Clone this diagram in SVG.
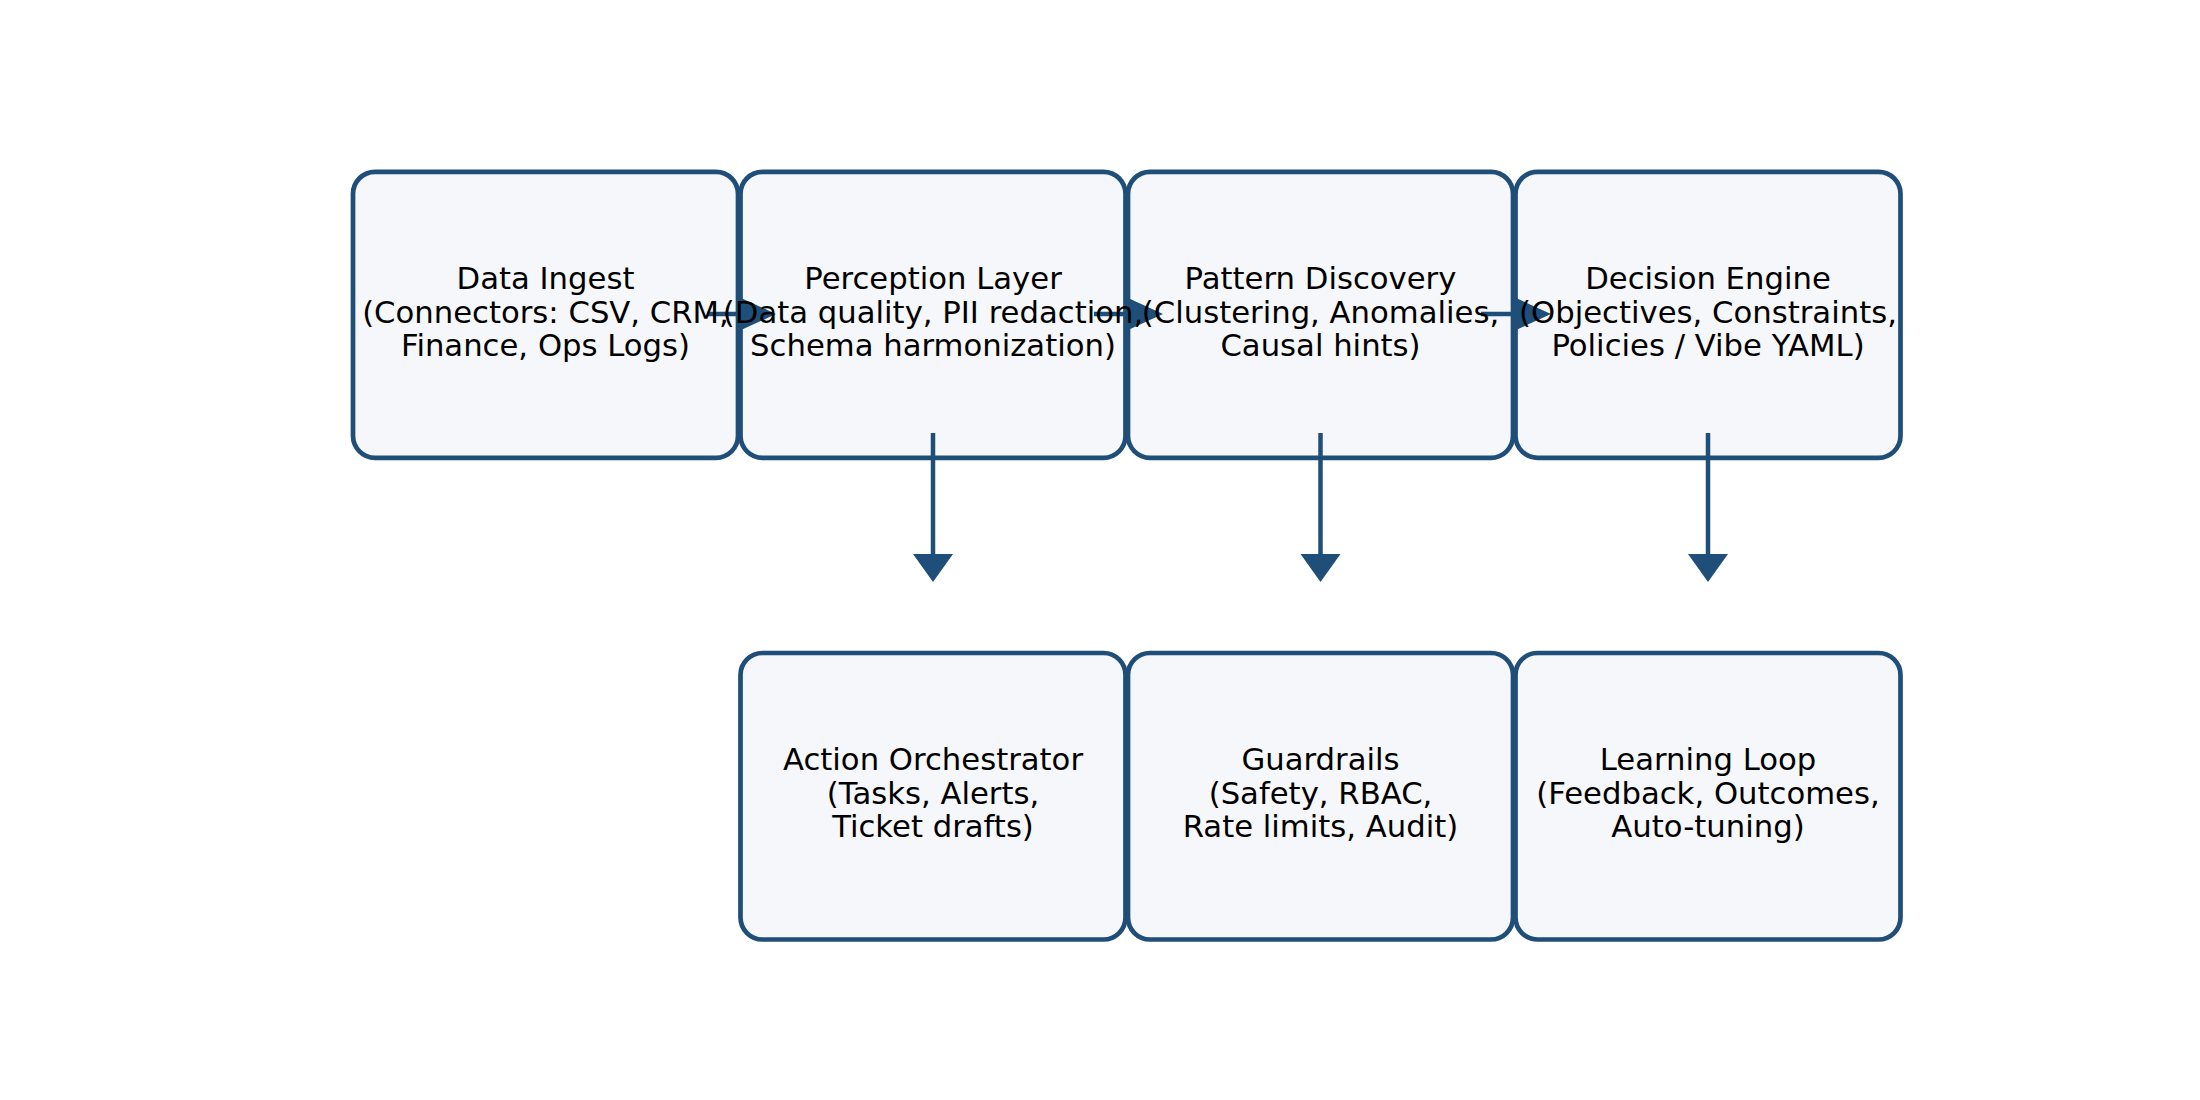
<svg xmlns="http://www.w3.org/2000/svg" width="2200" height="1100" viewBox="0 0 2200 1100">
<style>
.box{fill:#f5f7fa;stroke:#1f4e79;stroke-width:4.7}
.lbl{font-family:"DejaVu Sans",sans-serif;font-size:30.7px;fill:#000;text-anchor:middle}
.ln{stroke:#1f4e79;stroke-width:4.5;fill:none}
.hd{fill:#1f4e79}
</style>
<rect width="2200" height="1100" fill="#ffffff"/>
<g id="boxes">
<rect id="r-ingest" class="box" x="353" y="171.8" width="385" height="286" rx="22"/>
<rect id="r-perception" class="box" x="740.5" y="171.8" width="385" height="286" rx="22"/>
<rect id="r-pattern" class="box" x="1128" y="171.8" width="385" height="286" rx="22"/>
<rect id="r-decision" class="box" x="1515.5" y="171.8" width="385" height="286" rx="22"/>
<rect id="r-action" class="box" x="740.5" y="653" width="385" height="286.5" rx="22"/>
<rect id="r-guard" class="box" x="1128" y="653" width="385" height="286.5" rx="22"/>
<rect id="r-learn" class="box" x="1515.5" y="653" width="385" height="286.5" rx="22"/>
</g>
<g id="connectors">
<line class="ln" x1="707" y1="314" x2="745" y2="314"/>
<polygon class="hd" points="776,314 741,298 741,330"/>
<line class="ln" x1="1094" y1="314" x2="1132" y2="314"/>
<polygon class="hd" points="1163,314 1128,298 1128,330"/>
<line class="ln" x1="1481" y1="314" x2="1519" y2="314"/>
<polygon class="hd" points="1551,314 1516,298 1516,330"/>
<line class="ln" x1="933" y1="433" x2="933" y2="557"/>
<polygon class="hd" points="933,582 913,554 953,554"/>
<line class="ln" x1="1320.5" y1="433" x2="1320.5" y2="557"/>
<polygon class="hd" points="1320.5,582 1300.5,554 1340.5,554"/>
<line class="ln" x1="1708" y1="433" x2="1708" y2="557"/>
<polygon class="hd" points="1708,582 1688,554 1728,554"/>
</g>
<g id="n-ingest"><text class="lbl" x="545.5" y="289">Data Ingest</text><text class="lbl" x="545.5" y="322.5">(Connectors: CSV, CRM,</text><text class="lbl" x="545.5" y="356">Finance, Ops Logs)</text></g>
<g id="n-perception"><text class="lbl" x="933" y="289">Perception Layer</text><text class="lbl" x="933" y="322.5">(Data quality, PII redaction,</text><text class="lbl" x="933" y="356">Schema harmonization)</text></g>
<g id="n-pattern"><text class="lbl" x="1320.5" y="289">Pattern Discovery</text><text class="lbl" x="1320.5" y="322.5">(Clustering, Anomalies,</text><text class="lbl" x="1320.5" y="356">Causal hints)</text></g>
<g id="n-decision"><text class="lbl" x="1708" y="289">Decision Engine</text><text class="lbl" x="1708" y="322.5">(Objectives, Constraints,</text><text class="lbl" x="1708" y="356">Policies / Vibe YAML)</text></g>
<g id="n-action"><text class="lbl" x="933" y="770">Action Orchestrator</text><text class="lbl" x="933" y="803.5">(Tasks, Alerts,</text><text class="lbl" x="933" y="837">Ticket drafts)</text></g>
<g id="n-guard"><text class="lbl" x="1320.5" y="770">Guardrails</text><text class="lbl" x="1320.5" y="803.5">(Safety, RBAC,</text><text class="lbl" x="1320.5" y="837">Rate limits, Audit)</text></g>
<g id="n-learn"><text class="lbl" x="1708" y="770">Learning Loop</text><text class="lbl" x="1708" y="803.5">(Feedback, Outcomes,</text><text class="lbl" x="1708" y="837">Auto-tuning)</text></g>
</svg>
